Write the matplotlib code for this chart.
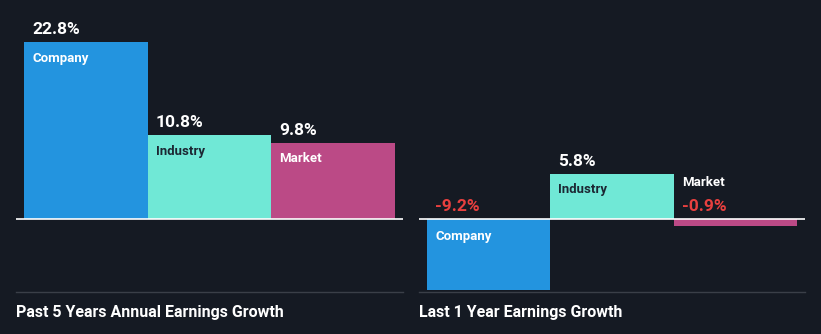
import matplotlib
matplotlib.use("Agg")
import matplotlib.pyplot as plt
from matplotlib.lines import Line2D

plt.rcParams["font.family"] = ["Roboto", "DejaVu Sans"]
plt.rcParams["font.weight"] = "bold"

categories = ["Company", "Industry", "Market"]
past_5y_growth = [22.8, 10.8, 9.8]
last_1y_growth = [-9.2, 5.8, -0.9]
panel_titles = ["Past 5 Years Annual Earnings Growth", "Last 1 Year Earnings Growth"]

BG = "#151a23"
bar_colors = ["#2394df", "#70e8d6", "#bb4a86"]
name_colors = ["#ffffff", "#1c2733", "#ffffff"]
NEG_COLOR = "#e8403f"
SEP_COLOR = "#3a3f48"

W, H = 821, 334
fig = plt.figure(figsize=(W / 100, H / 100), dpi=100, facecolor=BG)

PX_PER_UNIT = 7.76
ZERO_Y = 219
SEP_Y = 292

panels = [
    (16, 403, past_5y_growth, panel_titles[0]),
    (419, 805, last_1y_growth, panel_titles[1]),
]

for x0, x1, values, title in panels:
    ax = fig.add_axes([x0 / W, (H - SEP_Y) / H, (x1 - x0) / W, SEP_Y / H])
    ax.set_facecolor(BG)
    ax.axis("off")
    inner = 8
    bar_px = (x1 - x0 - 2 * inner) / 3
    pad = inner / bar_px
    ax.set_xlim(-0.5 - pad, 2.5 + pad)
    ax.set_ylim(-(SEP_Y - ZERO_Y) / PX_PER_UNIT, ZERO_Y / PX_PER_UNIT)

    xs = range(len(categories))
    ax.bar(xs, values, width=1.0, color=bar_colors, linewidth=0, zorder=2)
    ax.axhline(0, color="white", lw=1.2, zorder=3)

    for i, (cat, v) in enumerate(zip(categories, values)):
        left = i - 0.5 + pad
        val_color = NEG_COLOR if v < 0 else "white"
        top = max(v, 0)
        ax.annotate(f"{v:.1f}%", (left, top), xytext=(0, 8),
                    textcoords="offset pixels", ha="left", va="baseline",
                    fontsize=12.5, fontweight="bold", color=val_color, zorder=4)
        if v >= 0:
            ax.annotate(cat, (left, v), xytext=(0, -19.5),
                        textcoords="offset pixels", ha="left", va="baseline",
                        fontsize=9.5, fontweight="bold", color=name_colors[i], zorder=4)
        elif abs(v) * PX_PER_UNIT > 30:
            ax.annotate(cat, (left, 0), xytext=(0, -21),
                        textcoords="offset pixels", ha="left", va="baseline",
                        fontsize=9.5, fontweight="bold", color="white", zorder=4)
        else:
            ax.annotate(cat, (left, 0), xytext=(0, 33),
                        textcoords="offset pixels", ha="left", va="baseline",
                        fontsize=9.5, fontweight="bold", color="white", zorder=4)

    fig.add_artist(Line2D([x0 / W, x1 / W], [(H - SEP_Y) / H] * 2,
                          transform=fig.transFigure, color=SEP_COLOR, lw=1.0))
    fig.text(x0 / W, (H - 317) / H, title, ha="left", va="baseline",
             fontsize=11.5, fontweight="bold", color="white")

fig.savefig("out.png", dpi=100, facecolor=BG)
